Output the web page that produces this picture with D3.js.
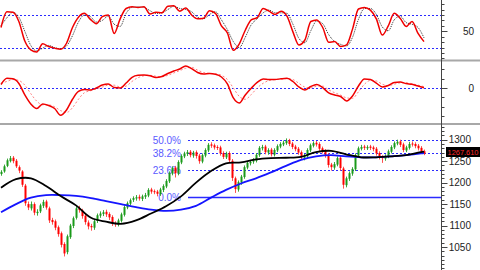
<!DOCTYPE html>
<html><head><meta charset="utf-8">
<script src="https://cdn.jsdelivr.net/npm/d3@7"></script>
<style>html,body{margin:0;padding:0;background:#fff;overflow:hidden}svg{display:block}</style>
</head><body><svg id="c" width="480" height="270"></svg>
<script>
// ---- DATA ----
const opens = [1220,1226,1239,1250,1258,1251,1236,1226,1193,1150,
 1140,1150,1129,1133,1146,1156,1140,1113,1110,1096,
 1082,1057,1038,1073,1099,1118,1141,1135,1123,1107,
 1099,1095,1111,1123,1127,1132,1127,1120,1106,1103,
 1111,1125,1142,1151,1160,1163,1167,1162,1167,1170,
 1184,1180,1179,1173,1183,1191,1203,1221,1235,1221,
 1247,1261,1267,1272,1263,1271,1263,1249,1263,1275,
 1289,1287,1283,1282,1269,1259,1269,1251,1210,1184,
 1200,1213,1235,1245,1249,1251,1264,1280,1284,1270,
 1277,1265,1275,1284,1289,1292,1299,1291,1284,1279,
 1271,1258,1261,1275,1286,1293,1290,1280,1274,1265,
 1242,1235,1242,1258,1233,1194,1209,1221,1231,1263,
 1279,1284,1280,1284,1282,1279,1269,1260,1256,1261,
 1272,1282,1291,1296,1289,1275,1281,1291,1290,1286,
 1281,1273];
const closes = [1225,1238,1252,1257,1250,1238,1228,1195,1152,1142,
 1150,1130,1132,1147,1155,1142,1112,1108,1095,1080,
 1055,1035,1075,1100,1117,1140,1136,1122,1108,1098,
 1096,1110,1124,1128,1131,1126,1119,1105,1104,1112,
 1126,1143,1152,1159,1164,1166,1163,1168,1171,1183,
 1179,1178,1174,1184,1192,1204,1222,1234,1222,1248,
 1262,1268,1271,1264,1270,1262,1250,1264,1276,1288,
 1286,1282,1281,1268,1260,1268,1252,1211,1185,1201,
 1214,1236,1246,1248,1252,1265,1281,1283,1271,1276,
 1266,1276,1285,1290,1293,1298,1290,1283,1278,1270,
 1259,1262,1276,1287,1292,1289,1279,1273,1264,1241,
 1236,1243,1257,1234,1195,1210,1222,1232,1264,1280,
 1283,1281,1283,1281,1278,1268,1259,1257,1262,1273,
 1283,1292,1295,1288,1276,1282,1290,1289,1285,1280,
 1272,1267.61];
const highs = [1229,1242,1256,1262,1262,1255,1240,1229,1197,1156,
 1156,1154,1138,1151,1160,1160,1144,1118,1114,1100,
 1086,1061,1079,1104,1121,1145,1146,1139,1127,1112,
 1104,1114,1128,1133,1136,1137,1131,1124,1110,1116,
 1130,1147,1156,1163,1168,1171,1172,1172,1176,1187,
 1188,1184,1183,1188,1196,1208,1226,1238,1239,1252,
 1266,1272,1276,1276,1274,1275,1267,1268,1280,1292,
 1294,1291,1287,1286,1273,1272,1273,1255,1214,1205,
 1218,1240,1250,1253,1257,1269,1285,1288,1288,1280,
 1281,1280,1289,1294,1298,1303,1302,1295,1288,1283,
 1275,1267,1280,1291,1296,1297,1294,1284,1278,1269,
 1246,1248,1261,1262,1237,1214,1226,1236,1268,1284,
 1288,1288,1287,1288,1286,1283,1273,1264,1266,1277,
 1287,1296,1300,1300,1293,1286,1295,1296,1294,1290,
 1285,1277];
const lows = [1216,1223,1236,1247,1245,1234,1222,1190,1146,1136,
 1135,1124,1123,1129,1141,1137,1106,1102,1089,1074,
 1049,1028,1033,1069,1094,1114,1130,1116,1102,1091,
 1088,1090,1106,1118,1122,1120,1113,1099,1097,1098,
 1107,1121,1138,1147,1155,1158,1158,1157,1162,1166,
 1174,1173,1168,1169,1178,1187,1199,1217,1212,1217,
 1243,1257,1262,1259,1258,1256,1244,1245,1259,1271,
 1281,1277,1276,1263,1255,1255,1246,1204,1176,1179,
 1195,1209,1231,1240,1244,1247,1260,1275,1266,1265,
 1261,1261,1271,1280,1285,1288,1285,1278,1273,1265,
 1253,1252,1257,1271,1282,1284,1274,1268,1258,1235,
 1228,1230,1238,1228,1186,1189,1204,1216,1227,1259,
 1275,1276,1276,1276,1273,1263,1254,1246,1251,1257,
 1268,1278,1287,1283,1271,1271,1277,1284,1280,1275,
 1267,1264];
// moving averages, sampled at these bar numbers
const maDays = [0,5,10,15,20,25,30,35,40,45,50,55,60,65,70,75,80,85,90,95,100,105,110,115,120,125,130,135,140,141];
const maBlack = [1188,1208,1210,1192,1168,1147,1118,1109,1104,1112,1128,1145,1168,1200,1227,1245,1247,1254,1257,1258,1260,1271,1274,1266,1259,1259,1261,1264,1271,1272];
const maBlue = [1131,1150,1165,1171,1171,1169,1164,1157,1150,1143,1137,1134,1137,1146,1165,1183,1198,1210,1224,1239,1253,1261,1264,1261,1259,1259,1261,1264,1268,1269];
// oscillators (every other bar)
const stochK = [57,86,85,68,32,16,12,27,22,19,17,28,57,76,83,72,64,77,80,46,73,92,95,94,95,82,85,84,96,97,87,93,80,73,74,88,83,60,47,15,27,52,71,75,92,87,81,87,78,49,25,34,68,71,57,30,31,22,25,54,91,94,89,73,43,60,83,74,59,68,46,31];
const stochD = [60,75,85,76,50,24,14,19,24,20,18,23,42,67,80,77,67,70,78,63,59,83,94,95,94,88,83,84,90,96,92,90,86,76,73,81,86,71,53,31,20,39,62,73,84,89,84,84,83,63,37,29,51,69,64,44,31,26,23,39,72,92,92,81,58,51,71,78,66,63,57,38];
const macd = [3.7,10.3,9.8,4.8,-7.4,-17,-21.8,-17,-18.6,-21.8,-29,-23.4,-12,-3.7,-1.6,-2.1,0,3.2,4.3,0.5,0,5.3,11.4,13.5,13.8,13.1,11.2,12.2,15.4,18.1,20.2,23.4,20.6,16.5,14.9,15.4,14.6,11.7,4.3,-10.6,-16,-7.4,-0.3,5.9,9.6,9,9,9.8,10.3,6.9,1.1,-2.1,1.6,3.7,0.5,-5.3,-7.4,-9,-13.8,-8.5,2.1,9.6,9,5.3,1.1,2.7,5.9,6.4,4.7,3.9,2.1,0.3];
const macdSignal = [5,7,9,8,3,-6,-14,-18,-18,-20,-24,-26,-21,-12,-5,-3,-1,1,3,3,1,2,7,11,13,13.5,12.5,12,13.5,16,18.5,21,22,19,16.5,15.5,15,13.5,9,0,-9,-12,-7,0,5,8,9,9.5,10,9,5,1,0,2,2,-2,-5,-7.5,-10.5,-11,-4,4,8,7.5,4,2.5,4,5.5,5.5,4.5,3,1.5];
const fibLevels = [0, 23.6, 38.2, 50];
const fibBase = 1166, fibRange = 268;
const stochTicks = [0,10,20,30,40,50,60,70,80,90,100];
const stochLabels = [50];
const stochBands = [20,80];
const macdTicks = [-30,-20,-10,0,10,20];
const macdLabels = [0];
const priceLabels = [1050,1100,1150,1200,1250,1300];
const priceMinor = d3.range(1000,1331,10);

// ---- LAYOUT ----
const W=480,H=270, AX=441.5;
const svg=d3.select("#c");
svg.append("rect").attr("width",W).attr("height",H).attr("fill","#fff");
const defs=svg.append("defs");
function clip(id,y0,y1){defs.append("clipPath").attr("id",id).append("rect").attr("x",0).attr("y",y0).attr("width",AX).attr("height",y1-y0);}
clip("c1",0,60); clip("c2",61,123); clip("c3",125,270);

const xDay=d3.scaleLinear().domain([0,closes.length-1]).range([1,424]);
const xOsc=d3.scaleLinear().domain([0,stochK.length-1]).range([1,424]);
const yStoch=d3.scaleLinear().domain([20,80]).range([47.6,15]);
const yMacd=d3.scaleLinear().domain([-10,10]).range([97.4,78.6]);
const yPrice=d3.scaleLinear().domain([1050,1300]).range([247,139.7]);

const FONT="'Liberation Sans', Arial, sans-serif";
const BLUE="#2b2bff";

// separators
[60.5,124].forEach(y=>svg.append("line").attr("x1",0).attr("x2",W).attr("y1",y).attr("y2",y).attr("stroke","#a8a8a8").attr("stroke-width",2));

// ---- panel 1: stochastic ----
const p1=svg.append("g").attr("clip-path","url(#c1)");
p1.selectAll("line.band").data(stochBands).join("line").attr("x1",0).attr("x2",AX).attr("y1",d=>Math.round(yStoch(d))+0.5).attr("y2",d=>Math.round(yStoch(d))+0.5).attr("stroke",BLUE).attr("stroke-dasharray","2,2");
p1.append("path").datum(stochD).attr("fill","none").attr("stroke","#333").attr("stroke-width",1).attr("stroke-dasharray","1,1")
  .attr("d",d3.line().x((d,i)=>xOsc(i)).y(d=>yStoch(d)).curve(d3.curveMonotoneX));
p1.append("path").datum(stochK).attr("fill","none").attr("stroke","#f00000").attr("stroke-width",1.5)
  .attr("d",d3.line().x((d,i)=>xOsc(i)).y(d=>yStoch(d)).curve(d3.curveMonotoneX));

// ---- panel 2: macd ----
const p2=svg.append("g").attr("clip-path","url(#c2)");
p2.append("line").attr("x1",0).attr("x2",AX+5).attr("y1",Math.round(yMacd(0))+0.5).attr("y2",Math.round(yMacd(0))+0.5).attr("stroke",BLUE).attr("stroke-dasharray","2,2");
p2.append("path").datum(macdSignal).attr("fill","none").attr("stroke","#ff8080").attr("stroke-width",1).attr("stroke-dasharray","2,2")
  .attr("d",d3.line().x((d,i)=>xOsc(i)).y(d=>yMacd(d)).curve(d3.curveMonotoneX));
p2.append("path").datum(macd).attr("fill","none").attr("stroke","#f00000").attr("stroke-width",1.5)
  .attr("d",d3.line().x((d,i)=>xOsc(i)).y(d=>yMacd(d)).curve(d3.curveMonotoneX));

// ---- panel 3: price ----
const p3=svg.append("g").attr("clip-path","url(#c3)");
fibLevels.forEach(l=>{
  const y=Math.round(yPrice(fibBase+fibRange*l/100))+0.5;
  p3.append("line").attr("x1",188).attr("x2",AX).attr("y1",y).attr("y2",y).attr("stroke",BLUE)
    .attr("stroke-width",l===0?1.5:1).attr("stroke-dasharray",l===0?null:"2,2");
  p3.append("text").attr("x",181).attr("y",y).attr("dy","0.35em").attr("text-anchor","end")
    .attr("font-family",FONT).attr("font-size",10).attr("fill","#5a5aff").text(l.toFixed(1)+"%");
});
const bars=d3.range(closes.length);
const up=i=>closes[i]>=opens[i];
p3.selectAll("line.wick").data(bars).join("line")
  .attr("x1",i=>Math.round(xDay(i))+0.5).attr("x2",i=>Math.round(xDay(i))+0.5)
  .attr("y1",i=>yPrice(highs[i])).attr("y2",i=>yPrice(lows[i]))
  .attr("stroke",i=>up(i)?"#3aa83a":"#ff5050").attr("stroke-width",1);
p3.selectAll("rect.body").data(bars).join("rect")
  .attr("x",i=>Math.round(xDay(i))-0.5).attr("width",2)
  .attr("y",i=>yPrice(Math.max(opens[i],closes[i])))
  .attr("height",i=>Math.max(1,Math.abs(yPrice(opens[i])-yPrice(closes[i]))))
  .attr("fill",i=>up(i)?"#1a9a1a":"#ff0000");
const maLine=arr=>d3.line().x((d,i)=>xDay(maDays[i])).y(d=>yPrice(d)).curve(d3.curveCatmullRom)(arr);
p3.append("path").attr("d",maLine(maBlue)).attr("fill","none").attr("stroke","#1515ff").attr("stroke-width",1.8);
p3.append("path").attr("d",maLine(maBlack)).attr("fill","none").attr("stroke","#000").attr("stroke-width",1.8);

// ---- right axes ----
const axG=svg.append("g");
axG.append("line").attr("x1",AX).attr("x2",AX).attr("y1",0).attr("y2",H).attr("stroke","#444");
function ticks(vals,scale,len,y0,y1){
  vals.filter(v=>{const y=scale(v);return y>y0&&y<y1;}).forEach(v=>{
    const y=Math.round(scale(v))+0.5;
    axG.append("line").attr("x1",AX).attr("x2",AX+len).attr("y1",y).attr("y2",y).attr("stroke","#444");
  });
}
function labels(vals,scale,xr){
  vals.forEach(v=>axG.append("text").attr("x",xr).attr("y",scale(v)).attr("dy","0.35em").attr("text-anchor","end")
    .attr("font-family",FONT).attr("font-size",10).attr("fill","#222").text(v));
}
ticks(stochTicks,yStoch,3,1,59); ticks(stochLabels,yStoch,6,1,59); labels(stochLabels,yStoch,474);
ticks(macdTicks,yMacd,3,62,122); ticks(macdLabels,yMacd,6,62,122); labels(macdLabels,yMacd,474);
ticks(priceMinor,yPrice,3,126,269); ticks(priceLabels,yPrice,6,126,269); labels(priceLabels,yPrice,471);

// last price tag
const last=closes[closes.length-1];
const ly=Math.round(yPrice(last))-2;
svg.append("rect").attr("x",446).attr("y",ly-5).attr("width",34).attr("height",10).attr("fill","#000");
svg.append("text").attr("x",463).attr("y",ly).attr("dy","0.35em").attr("text-anchor","middle")
  .attr("font-family",FONT).attr("font-size",8).attr("textLength",31).attr("lengthAdjust","spacingAndGlyphs")
  .attr("fill","#ff2a2a").text(last.toFixed(3));
</script></body></html>
